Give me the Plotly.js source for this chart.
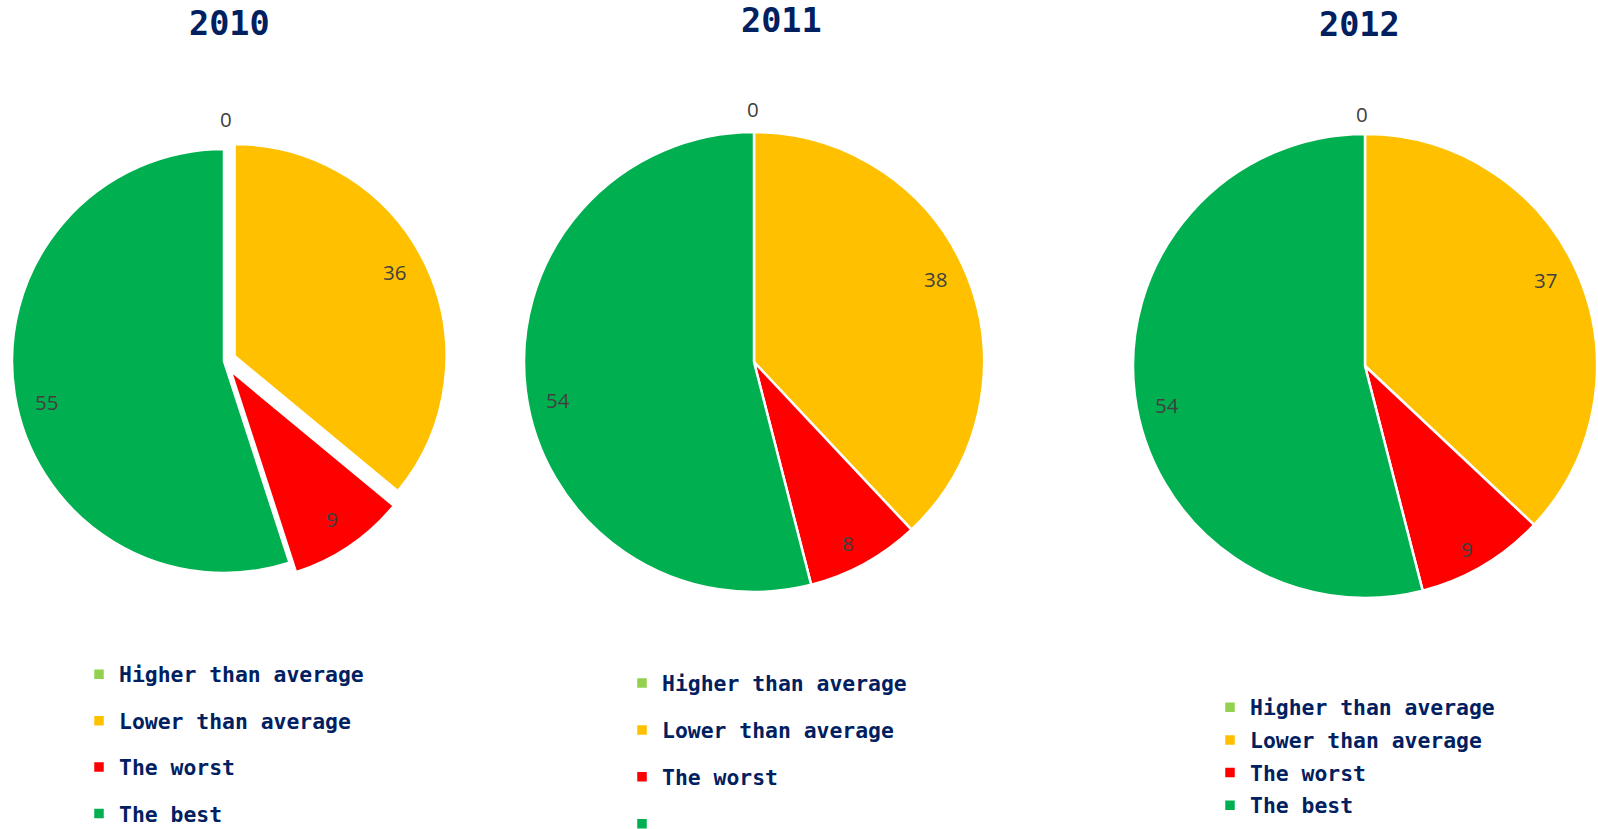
<!DOCTYPE html>
<html>
<head>
<meta charset="utf-8">
<script src="https://cdn.plot.ly/plotly-3.0.1.min.js"></script>
<style>
  html, body { margin: 0; padding: 0; background: #ffffff; overflow: hidden; }
  #chart { width: 1598px; height: 860px; }
</style>
</head>
<body>
<div id="chart"></div>
<script>
// Ratings share per year
const years = ['2010', '2011', '2012'];
const categories = ['Higher than average', 'Lower than average', 'The worst', 'The best'];
const legendLabels2011 = ['Higher than average', 'Lower than average', 'The worst', ''];
const values2010 = [0, 36, 9, 55];
const values2011 = [0, 38, 8, 54];
const values2012 = [0, 37, 9, 54];
const sliceColors = ['#92d050', '#ffc000', '#ff0000', '#00b050'];

// the figure runs a little below the window so the long legends are not squeezed upward
const W = 1598, H = 860;
const NAVY = '#002060';

// pie placement in pixels from the top-left (centre, radius, pull of exploded slices),
// small per-label nudges for the value labels, and legend placement
const pies = [
  { year: years[0], values: values2010, labels: categories,       cx: 224,  cy: 361, r: 212, pull: [0.055, 0.055, 0.055, 0],
    nudge: [[2, 2], [-5, -6], [-1, -2], [3, 12]],
    titleX: 229,  titleY: 23, legend: 'legend',  legX: 79,   legY: 646,   legSize: 33.4, shift: 5 },
  { year: years[1], values: values2011, labels: legendLabels2011, cx: 754,  cy: 362, r: 230, pull: [0, 0, 0, 0],
    nudge: [[-1, -3], [-2, -10], [-1, 8], [0, 13]],
    titleX: 781,  titleY: 21, legend: 'legend2', legX: 622,  legY: 654.5, legSize: 33.8, shift: 5 },
  { year: years[2], values: values2012, labels: categories,       cx: 1365, cy: 366, r: 232, pull: [0, 0, 0, 0],
    nudge: [[-3, 0], [-3, -7], [0, 11], [0, 14]],
    titleX: 1359, titleY: 24, legend: 'legend3', legX: 1210, legY: 686,   legSize: 22.8, shift: 1 }
];

const labelSpan = (txt, shift) =>
  '<span style="font-size:21.4px;baseline-shift:' + shift + 'px">' + (txt === '' ? ' ' : txt) + '</span>';

const traces = [];
const annotations = [];
const layout = {
  width: W, height: H,
  margin: { l: 0, r: 0, t: 0, b: 0, autoexpand: false },
  paper_bgcolor: '#ffffff',
  font: { family: 'Open Sans, sans-serif', color: '#404040' },
  showlegend: true,
  annotations: annotations
};

pies.forEach((p) => {
  const maxPull = Math.max(...p.pull);
  const half = p.r * (1 + maxPull);
  traces.push({
    type: 'pie',
    name: p.year,
    values: p.values,
    labels: p.labels.map(l => labelSpan(l, p.shift)),
    sort: false,
    direction: 'clockwise',
    rotation: 0,
    pull: p.pull,
    marker: { colors: sliceColors, line: { color: '#ffffff', width: 2.5 } },
    textinfo: 'none',
    hoverinfo: 'value+percent',
    domain: {
      x: [(p.cx - half) / W, (p.cx + half) / W],
      y: [1 - (p.cy + half) / H, 1 - (p.cy - half) / H]
    },
    legend: p.legend,
    legendgroup: 'year' + p.year,
    showlegend: true
  });

  layout[p.legend] = {
    x: p.legX / W, xanchor: 'left',
    y: 1 - p.legY / H, yanchor: 'top',
    orientation: 'v',
    bgcolor: 'rgba(0,0,0,0)',
    borderwidth: 0,
    itemclick: false, itemdoubleclick: false,
    font: { family: 'DejaVu Sans Mono, monospace', size: p.legSize, color: NAVY, weight: 'bold' }
  };

  // year title
  annotations.push({
    xref: 'paper', yref: 'paper',
    x: p.titleX / W, y: 1 - p.titleY / H,
    xanchor: 'center', yanchor: 'middle',
    showarrow: false,
    text: p.year,
    font: { family: 'DejaVu Sans Mono, monospace', size: 33.5, color: NAVY, weight: 'bold' }
  });

  // value labels near the outer end of each slice
  const total = p.values.reduce((a, b) => a + b, 0);
  let cum = 0;
  p.values.forEach((v, k) => {
    const mid = (cum + v / 2) / total * 2 * Math.PI;
    cum += v;
    const sx = Math.sin(mid), sy = -Math.cos(mid);
    const ox = p.cx + p.pull[k] * p.r * sx;
    const oy = p.cy + p.pull[k] * p.r * sy;
    const rr = v === 0 ? p.r + 20 : p.r * 0.86;
    const px = ox + rr * sx + p.nudge[k][0];
    const py = oy + rr * sy + p.nudge[k][1];
    annotations.push({
      xref: 'paper', yref: 'paper',
      x: px / W, y: 1 - py / H,
      xanchor: 'center', yanchor: 'middle',
      showarrow: false,
      text: String(v),
      font: { family: 'Open Sans, sans-serif', size: 20.5, color: '#404040' }
    });
  });
});

Plotly.newPlot('chart', traces, layout, { displayModeBar: false });
</script>
</body>
</html>
